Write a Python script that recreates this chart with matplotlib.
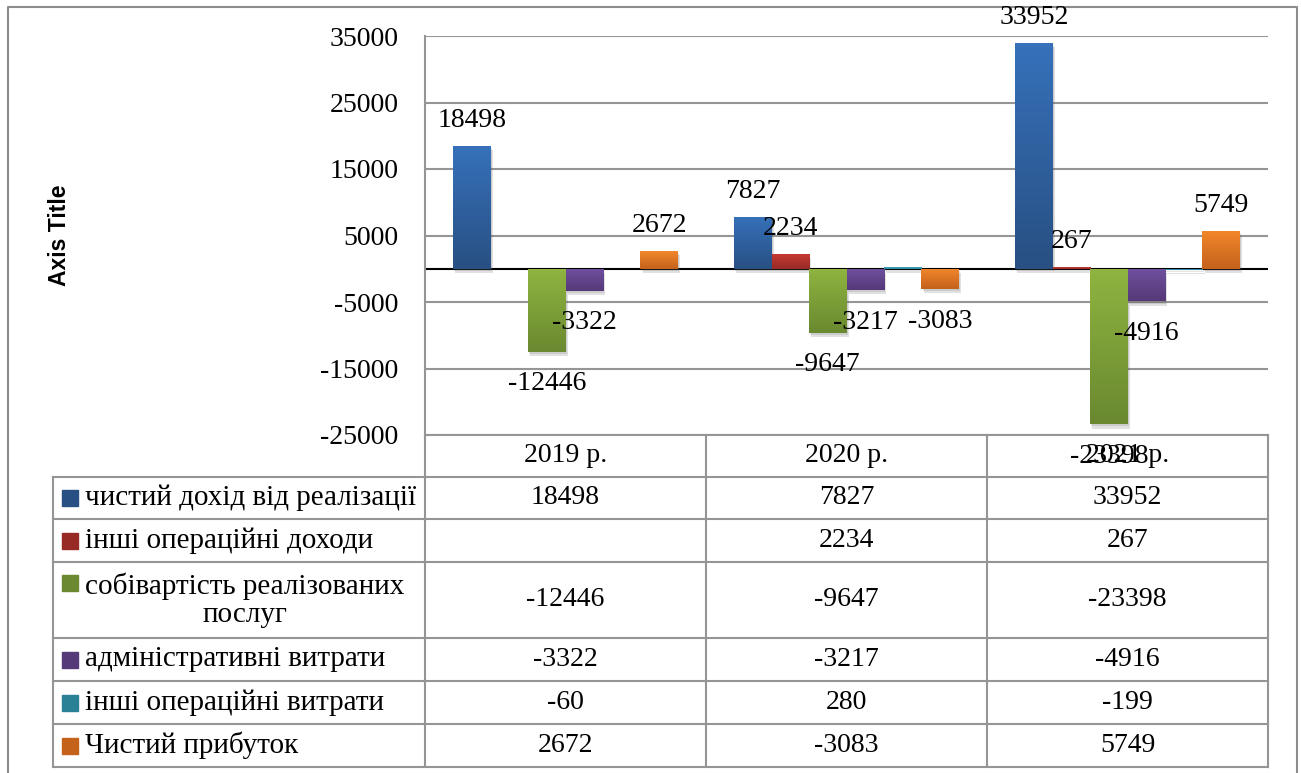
import matplotlib.pyplot as plt
import matplotlib.patheffects as pe
from matplotlib.colors import LinearSegmentedColormap
from matplotlib.patches import Rectangle
import numpy as np

years = ['2019 р.', '2020 р.', '2021 р.']
series_names = ['чистий дохід від реалізації', 'інші операційні доходи',
                'собівартість реалізованих\nпослуг', 'адміністративні витрати',
                'інші операційні витрати', 'Чистий прибуток']
net_revenue = [18498, 7827, 33952]
other_income = [np.nan, 2234, 267]
cost_of_services = [-12446, -9647, -23398]
admin_expenses = [-3322, -3217, -4916]
other_expenses = [-60, 280, -199]
net_profit = [2672, -3083, 5749]
y_ticks = [-25000, -15000, -5000, 5000, 15000, 25000, 35000]

series = [net_revenue, other_income, cost_of_services, admin_expenses, other_expenses, net_profit]
show_labels = [True, True, True, True, False, True]
# gradient colours: top -> bottom
tops = ['#3671ba', '#c43b33', '#8fb440', '#70509f', '#3eaac4', '#f2872b']
bottoms = ['#285083', '#982a25', '#6a8930', '#553978', '#2a8196', '#c4621c']

W, H = 1301, 773
plt.rcParams['font.family'] = ['Liberation Serif', 'DejaVu Serif']
plt.rcParams['axes.unicode_minus'] = False
fs = 20
fs_names = 21
grid_c = '#959595'

fig = plt.figure(figsize=(W / 100, H / 100), dpi=100)

# pixel layer for the frame and the data table
lay = fig.add_axes([0, 0, 1, 1])
lay.set_xlim(0, W)
lay.set_ylim(H, 0)
lay.axis('off')

ax = fig.add_axes([425 / W, (H - 435) / H, 843 / W, 399 / H])
ax.set_zorder(2)
ax.patch.set_alpha(0)

n = len(series)
w = 1 / 7.5
x = np.arange(len(years))
for i, vals in enumerate(series):
    vals = np.array(vals, dtype=float)
    ok = ~np.isnan(vals)
    pos = x + (i - (n - 1) / 2) * w
    bars = ax.bar(pos[ok], vals[ok], w, color=bottoms[i], zorder=3,
                  path_effects=[pe.SimplePatchShadow(offset=(1.5, -3), shadow_rgbFace='0.35', alpha=0.18),
                                pe.SimplePatchShadow(offset=(1, -1.5), shadow_rgbFace='0.35', alpha=0.15),
                                pe.Normal()])
    cmap = LinearSegmentedColormap.from_list('g%d' % i, [tops[i], bottoms[i]])
    grad = np.linspace(0, 1, 64).reshape(-1, 1)
    for b in bars:
        h = b.get_height()
        y0, y1 = min(0, h), max(0, h)
        im = ax.imshow(grad, cmap=cmap, extent=[b.get_x(), b.get_x() + w, y0, y1],
                       aspect='auto', origin='upper', zorder=4)
        im.set_clip_path(b)
        if show_labels[i]:
            ax.annotate('%d' % h, (b.get_x() + w / 2, h),
                        xytext=(0, 9 if h > 0 else -14), textcoords='offset points',
                        ha='center', va='bottom' if h > 0 else 'top', fontsize=fs, zorder=6)

ax.axhline(0, color='black', lw=1.5, zorder=2.5)
ax.set_xlim(-0.5, len(years) - 0.5)
ax.set_ylim(-25000, 35000)
ax.set_yticks(y_ticks)
ax.set_xticks([])
ax.yaxis.grid(True, color=grid_c, lw=1.5, zorder=0)
ax.set_axisbelow(True)
ax.tick_params(axis='y', length=0, pad=19, labelsize=fs)
for s in ['top', 'right', 'bottom']:
    ax.spines[s].set_visible(False)
ax.spines['left'].set_color(grid_c)
ax.spines['left'].set_linewidth(1.5)

lay.text(60, 235, 'Axis Title', rotation=90, fontsize=16.5, fontweight='bold',
         family='Liberation Sans', ha='center', va='center')

# outer frame (bottom edge falls outside the picture)
lay.plot([8, 8, 1297, 1297], [H + 5, 7, 7, H + 5], color='#8c8c8c', lw=1.5)

# data table
col_edges = [425 + 281 * k for k in range(len(years) + 1)]
row_edges = [477, 519, 562, 638, 681, 724, 767]
tab_left = 53
lay.plot([col_edges[0], col_edges[-1]], [435, 435], color=grid_c, lw=1.5)
for y in row_edges:
    lay.plot([tab_left, col_edges[-1]], [y, y], color=grid_c, lw=1.5)
for xe in col_edges:
    lay.plot([xe, xe], [435, row_edges[-1]], color=grid_c, lw=1.5)
lay.plot([tab_left, tab_left], [row_edges[0], row_edges[-1]], color=grid_c, lw=1.5)

for j, yr in enumerate(years):
    lay.text((col_edges[j] + col_edges[j + 1]) / 2, 456, yr, fontsize=fs, ha='center', va='center')

for i, name in enumerate(series_names):
    top, bot = row_edges[i], row_edges[i + 1]
    yc = (top + bot) / 2
    two = '\n' in name
    my = top + 21 if two else yc
    lay.add_patch(Rectangle((62, my - 8), 16, 16, color=bottoms[i], zorder=3))
    lay.text(85, yc, name, fontsize=fs_names, ha='left', va='center', multialignment='center',
             linespacing=1.1)
    for j in range(len(years)):
        v = series[i][j]
        if np.isnan(v):
            continue
        lay.text((col_edges[j] + col_edges[j + 1]) / 2, yc, '%d' % v, fontsize=fs,
                 ha='center', va='center')

fig.savefig('out.png', dpi=100)
